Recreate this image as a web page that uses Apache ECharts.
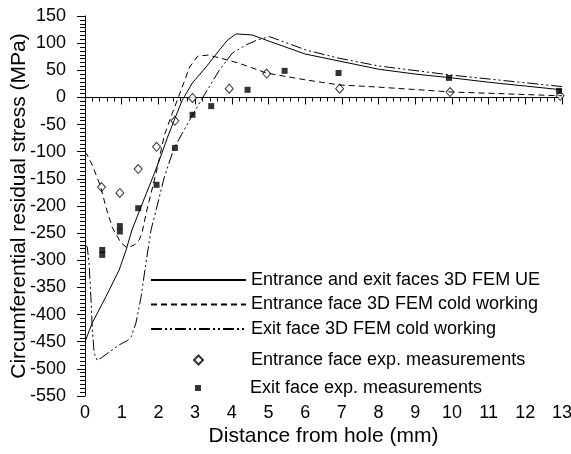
<!DOCTYPE html>
<html>
<head>
<meta charset="utf-8">
<script src="https://cdn.jsdelivr.net/npm/echarts@6/dist/echarts.min.js"></script>
<style>html,body{margin:0;padding:0;background:#fff;}#c{width:571px;height:454px;}</style>
</head>
<body>
<div id="c"></div>
<script>
var seriesNames = [
  'Entrance and exit faces 3D FEM UE',
  'Entrance face 3D FEM cold working',
  'Exit face 3D FEM cold working',
  'Entrance face exp. measurements',
  'Exit face exp. measurements'
];
var xTicks = [0,1,2,3,4,5,6,7,8,9,10,11,12,13];
var yTicks = [-550,-500,-450,-400,-350,-300,-250,-200,-150,-100,-50,0,50,100,150];

var ueFaces = [[0,-450],[0.02,-447],[0.2,-415],[0.57,-367],[0.93,-318],[1.12,-281],[1.28,-244],[1.6,-189],[1.89,-140],[2.1,-102],[2.24,-75],[2.43,-42],[2.65,-5],[2.93,27],[3.3,56],[3.66,87],[3.89,106],[4.12,117],[4.56,115],[5.0,104],[6.0,80],[7.0,66],[8.0,52],[9.0,43],[10.0,36],[11.0,28],[12.0,21],[13.0,14]];
var entranceCW = [[0,-100],[0.06,-106],[0.2,-125],[0.43,-165],[0.57,-202],[0.74,-239],[0.98,-268],[1.15,-277],[1.34,-272],[1.48,-262],[1.56,-248],[1.66,-215],[1.97,-130],[2.16,-70],[2.38,-29],[2.65,19],[2.85,56],[3.07,76],[3.35,78],[3.66,73],[4.2,63],[4.94,45],[6.04,32],[6.94,23],[8.0,19],[10.0,10],[13.0,3]];
var exitCW = [[0,-272],[0.06,-275],[0.11,-305],[0.16,-367],[0.2,-428],[0.25,-471],[0.33,-484],[0.44,-480],[0.66,-469],[0.93,-456],[1.15,-448],[1.26,-441],[1.39,-415],[1.53,-367],[1.66,-305],[1.8,-244],[1.94,-207],[2.16,-147],[2.43,-93],[2.66,-65],[2.93,-32],[3.3,10],[3.66,50],[4.02,82],[4.4,97],[4.7,106],[5.03,112],[6.04,87],[6.94,72],[8.0,58],[10.0,41],[13.0,20]];
var entranceExp = [[0.45,-165],[0.95,-176],[1.45,-132],[1.95,-91],[2.45,-43],[2.93,-1],[3.93,16],[4.95,44],[6.94,16],[9.95,10],[12.95,3]];
var exitExp = [[0.47,-281],[0.47,-290],[0.95,-237],[0.95,-247],[1.45,-204],[1.95,-161],[2.45,-93],[2.93,-32],[3.44,-16],[4.43,14],[5.44,49],[6.91,45],[9.92,36],[12.92,12]];

var FONT = '"Liberation Sans", Arial, Helvetica, sans-serif';
var chart = echarts.init(document.getElementById('c'), null, {renderer:'canvas'});
var legendText = {fontSize:18, color:'#000', fontFamily:FONT};
chart.setOption({
  animation:false,
  backgroundColor:'#fff',
  grid:{left:85, right:9, top:16, bottom:58, containLabel:false, outerBoundsMode:'none'},
  legend:[
    {data:seriesNames.slice(0,3), orient:'vertical', left:150, top:271, padding:0, itemWidth:95, itemHeight:14, itemGap:6.5, textStyle:legendText, selectedMode:false, itemStyle:{opacity:0, color:'rgba(0,0,0,0)', borderWidth:0}},
    {data:[seriesNames[3]], orient:'vertical', left:193, top:351, padding:0, itemWidth:9, itemHeight:9, textStyle:{fontSize:18, color:'#000', fontFamily:FONT, padding:[0,0,0,43]}, selectedMode:false},
    {data:[seriesNames[4]], orient:'vertical', left:195, top:379, padding:0, itemWidth:6, itemHeight:6, textStyle:{fontSize:18, color:'#000', fontFamily:FONT, padding:[0,0,0,44]}, selectedMode:false}
  ],
  xAxis:{
    type:'value', min:xTicks[0], max:xTicks[xTicks.length-1], interval:1,
    name:'Distance from hole (mm)', nameLocation:'middle', nameGap:30, nameMoveOverlap:false,
    nameTextStyle:{fontSize:21, color:'#000', fontFamily:FONT},
    axisLine:{show:true, lineStyle:{color:'#000', width:1}},
    axisTick:{show:true, inside:false, length:7, lineStyle:{color:'#000'}},
    minorTick:{show:true, splitNumber:5, length:4, lineStyle:{color:'#000'}},
    axisLabel:{fontSize:18, color:'#000', fontFamily:FONT, margin:8, showMaxLabel:true, showMinLabel:true},
    splitLine:{show:false}
  },
  yAxis:{
    type:'value', min:yTicks[0], max:yTicks[yTicks.length-1], interval:50,
    name:'Circumferential residual stress (MPa)', nameLocation:'middle', nameGap:55, nameRotate:90, nameMoveOverlap:false,
    nameTextStyle:{fontSize:21, color:'#000', fontFamily:FONT},
    axisLine:{show:true, lineStyle:{color:'#000', width:1}},
    axisTick:{show:true, inside:false, length:8, lineStyle:{color:'#000'}},
    minorTick:{show:true, splitNumber:7, length:5, lineStyle:{color:'#000'}},
    axisLabel:{fontSize:18, color:'#000', fontFamily:FONT, margin:19},
    splitLine:{show:false}
  },
  series:[
    {name:seriesNames[0], type:'line', data:ueFaces, symbol:'none', lineStyle:{color:'#000', width:1, type:'solid'}, itemStyle:{color:'#000'}},
    {name:seriesNames[1], type:'line', data:entranceCW, symbol:'none', lineStyle:{color:'#000', width:1, type:[6,4]}, itemStyle:{color:'#000'}},
    {name:seriesNames[2], type:'line', data:exitCW, symbol:'none', lineStyle:{color:'#000', width:1, type:[11,3,2,3,2,3]}, itemStyle:{color:'#000'}},
    {name:seriesNames[3], type:'scatter', data:entranceExp, symbol:'diamond', symbolSize:[8,9], itemStyle:{color:'#fff', borderColor:'#000', borderWidth:1}},
    {name:seriesNames[4], type:'scatter', data:exitExp, symbol:'rect', symbolSize:6, itemStyle:{color:'#000'}}
  ]
});
</script>
</body>
</html>
